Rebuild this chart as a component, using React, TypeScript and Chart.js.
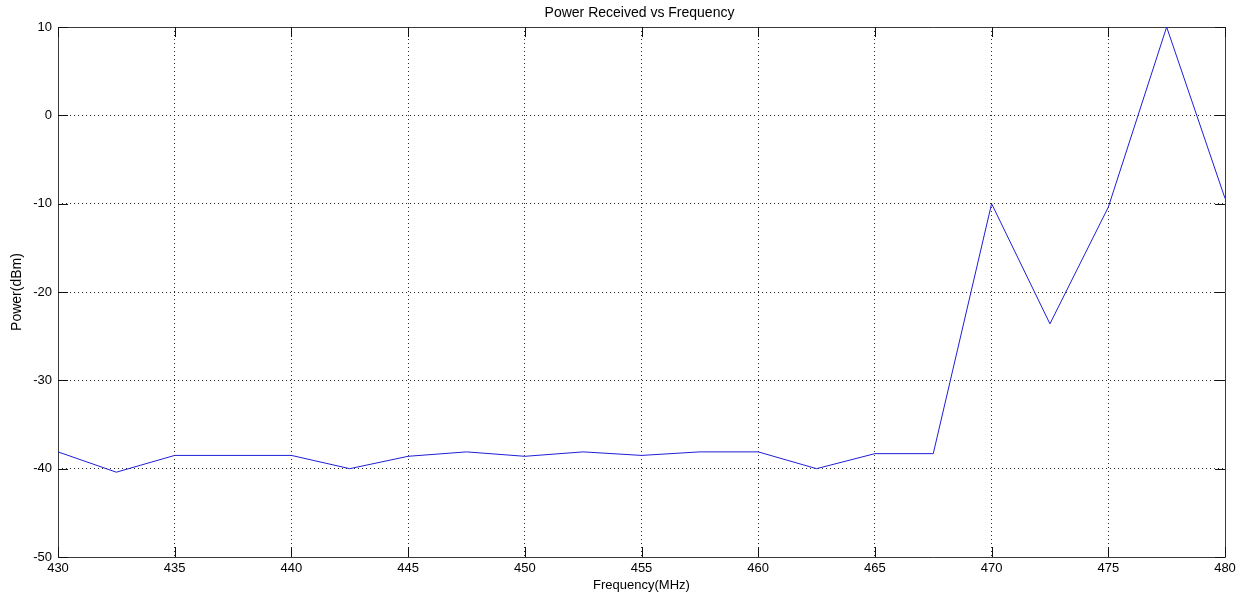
import React, { useEffect, useRef } from "react";
import { Chart, registerables } from "chart.js";

Chart.register(...registerables);

const chartTitle = "Power Received vs Frequency";
const xAxisLabel = "Frequency(MHz)";
const yAxisLabel = "Power(dBm)";

const frequencyMHz = [
  430, 432.5, 435, 437.5, 440, 442.5, 445, 447.5, 450, 452.5, 455, 457.5, 460,
  462.5, 465, 467.5, 470, 472.5, 475, 477.5, 480,
];
const powerDbm = [
  -38.1, -40.4, -38.5, -38.5, -38.5, -40.0, -38.6, -38.1, -38.6, -38.1, -38.5,
  -38.1, -38.1, -40.0, -38.3, -38.3, -10.0, -23.6, -10.4, 10.0, -9.4,
];

const xMin = 430;
const xMax = 480;
const xStep = 5;
const yMin = -50;
const yMax = 10;
const yStep = 10;

const FONT = "'Liberation Sans', Arial, Helvetica, sans-serif";

const framePlugin = {
  id: "matlabFrame",
  beforeDatasetsDraw(chart: any) {
    const { ctx, chartArea } = chart;
    const { left, right, top, bottom } = chartArea;
    ctx.save();
    ctx.strokeStyle = "#3a3a3a";
    ctx.lineWidth = 1;
    ctx.setLineDash([]);
    ctx.beginPath();
    ctx.rect(Math.round(left) + 0.5, Math.round(top) + 0.5, Math.round(right - left), Math.round(bottom - top));
    ctx.stroke();
    const tl = 10;
    ctx.strokeStyle = "#111";
    ctx.beginPath();
    const xs = chart.scales.x;
    xs.ticks.forEach((t: any) => {
      const px = Math.round(xs.getPixelForValue(t.value)) + 0.5;
      ctx.moveTo(px, bottom);
      ctx.lineTo(px, bottom - tl);
      ctx.moveTo(px, top);
      ctx.lineTo(px, top + tl);
    });
    const ys = chart.scales.y;
    ys.ticks.forEach((t: any) => {
      const py = Math.round(ys.getPixelForValue(t.value)) + 0.5;
      ctx.moveTo(left, py);
      ctx.lineTo(left + tl, py);
      ctx.moveTo(right, py);
      ctx.lineTo(right - tl, py);
    });
    ctx.stroke();
    ctx.restore();
  },
  afterDraw(chart: any) {
    const { ctx, chartArea } = chart;
    ctx.save();
    ctx.fillStyle = "#000";
    ctx.font = `14px ${FONT}`;
    ctx.textAlign = "center";
    ctx.textBaseline = "middle";
    ctx.fillText(chartTitle, (chartArea.left + chartArea.right) / 2 - 2, 13);
    ctx.restore();
  },
};

export default function App() {
  const canvasRef = useRef<HTMLCanvasElement | null>(null);

  useEffect(() => {
    const canvas = canvasRef.current;
    if (!canvas) return;
    const chart = new Chart(canvas, {
      type: "line",
      data: {
        datasets: [
          {
            label: "Power",
            data: frequencyMHz.map((f, i) => ({ x: f, y: powerDbm[i] })),
            borderColor: "rgb(30, 30, 215)",
            borderWidth: 1,
            pointRadius: 0,
            tension: 0,
            fill: false,
          },
        ],
      },
      options: {
        animation: false,
        responsive: false,
        maintainAspectRatio: false,
        layout: { padding: { top: 27, right: 19, left: 0, bottom: 0 } },
        plugins: {
          legend: { display: false },
          title: { display: false },
          tooltip: { enabled: false },
        },
        scales: {
          x: {
            type: "linear",
            min: xMin,
            max: xMax,
            afterFit: (s: any) => {
              s.height = 41;
            },
            ticks: {
              stepSize: xStep,
              autoSkip: false,
              maxRotation: 0,
              minRotation: 0,
              padding: 4,
              color: "#000",
              font: { family: FONT, size: 13 },
            },
            grid: { color: "#2a2a2a", lineWidth: 1, drawTicks: false },
            border: { display: false, dash: [1, 3] },
            title: {
              display: true,
              text: xAxisLabel,
              color: "#000",
              font: { family: FONT, size: 13 },
              padding: { top: 0, bottom: 5 },
            },
          },
          y: {
            type: "linear",
            min: yMin,
            max: yMax,
            afterFit: (s: any) => {
              s.width = 58;
            },
            ticks: {
              stepSize: yStep,
              padding: 6,
              color: "#000",
              font: { family: FONT, size: 13 },
            },
            grid: { color: "#2a2a2a", lineWidth: 1, drawTicks: false },
            border: { display: false, dash: [1, 3] },
            title: {
              display: true,
              text: yAxisLabel,
              color: "#000",
              font: { family: FONT, size: 14 },
              padding: { top: 9, bottom: 0 },
            },
          },
        },
      },
      plugins: [framePlugin],
    });
    return () => chart.destroy();
  }, []);

  return (
    <div style={{ position: "fixed", left: 0, top: 0, width: 1244, height: 598, background: "#fff" }}>
      <canvas ref={canvasRef} width={1244} height={598} style={{ display: "block", width: 1244, height: 598 }} />
    </div>
  );
}
